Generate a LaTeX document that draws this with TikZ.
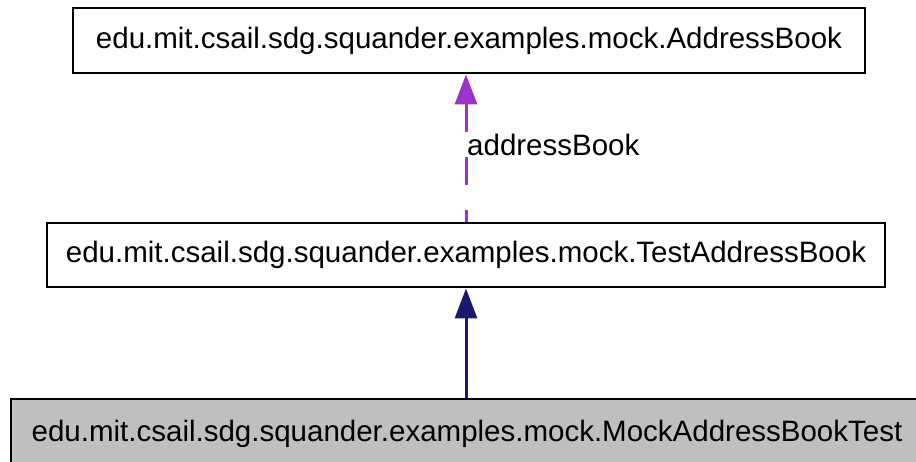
\documentclass[tikz,border=0pt]{standalone}
\usepackage{fontspec}
\setmainfont{Liberation Sans}
\usetikzlibrary{arrows.meta}
\definecolor{purp}{HTML}{9A32CD}
\definecolor{navy}{HTML}{191970}
\definecolor{grayfill}{HTML}{BFBFBF}
\tikzset{
  cls/.style={draw=black, line width=2.8pt, rectangle, inner sep=0pt, font=\fontsize{29.5}{34}\selectfont, text=black},
  dep/.style={draw=purp, line width=3pt, dash pattern=on 28pt off 25pt, {Triangle[length=30pt,width=22pt]}-},
  inh/.style={draw=navy, line width=3pt, -{Triangle[length=30pt,width=22pt]}},
  lbl/.style={font=\fontsize{29.5}{34}\selectfont, text=black, inner sep=0pt},
}
\begin{document}
\begin{tikzpicture}[x=1pt,y=-1pt]
\useasboundingbox (0,0) rectangle (916,461);
\node[cls, minimum width=792pt, minimum height=65pt] (ab) at (469,40.5) {edu.mit.csail.sdg.squander.examples.mock.AddressBook};
\node[cls, minimum width=838pt, minimum height=64pt] (tab) at (466,255) {edu.mit.csail.sdg.squander.examples.mock.TestAddressBook};
\node[cls, fill=grayfill, minimum width=912pt, minimum height=70pt] (mab) at (467,434) {edu.mit.csail.sdg.squander.examples.mock.MockAddressBookTest};
\draw[dep] (ab.south -| 466,0) -- (tab.north -| 466,0);
\node[lbl, anchor=west] (lab) at (467,145) {addressBook};
\draw[inh] (mab.north -| 466,0) -- (tab.south -| 466,0);
\end{tikzpicture}
\end{document}
